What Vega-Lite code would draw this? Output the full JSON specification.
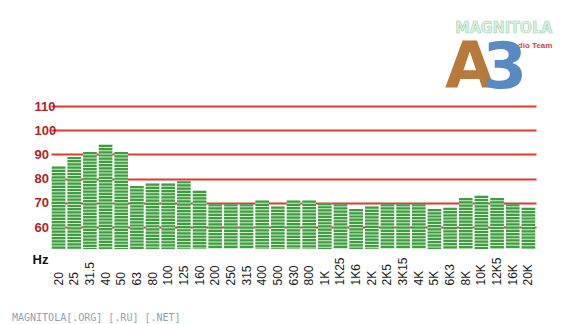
{
  "$schema": "https://vega.github.io/schema/vega-lite/v6.json",
  "width": 485,
  "height": 143,
  "autosize": "none",
  "padding": {"left": 51, "top": 106, "right": 35, "bottom": 75},
  "background": "white",
  "config": {
    "view": {"stroke": null},
    "font": "Liberation Sans",
    "axisX": {
      "titleAngle": 0,
      "titleAlign": "left",
      "titleBaseline": "alphabetic",
      "titleX": -19,
      "titleY": 14,
      "titleFontSize": 13,
      "titleFontWeight": "bold",
      "titleColor": "#111111",
      "labelAngle": -90,
      "labelAlign": "left",
      "labelBaseline": "middle",
      "labelPadding": 36,
      "labelFontSize": 12,
      "labelColor": "#1a1a1a",
      "labelOverlap": false,
      "ticks": false,
      "domain": false,
      "grid": false
    },
    "axisY": {
      "labelOverlap": false,
      "grid": true,
      "gridColor": "#de3b2c",
      "gridWidth": 2,
      "zindex": 1,
      "domain": false,
      "ticks": false,
      "labelAlign": "left",
      "labelPadding": 17,
      "labelFontSize": 13,
      "labelFontWeight": "bold",
      "labelColor": "#b31e1e"
    }
  },
  "title": {
    "text": "MAGNITOLA[.ORG] [.RU] [.NET]",
    "orient": "bottom",
    "anchor": "start",
    "frame": "group",
    "font": "DejaVu Sans Mono",
    "fontSize": 10,
    "fontWeight": "normal",
    "color": "#8ea0b8",
    "offset": 28,
    "dx": -39
  },
  "datasets": {
    "eq": [
      {"hz": "20", "db": 85}, {"hz": "25", "db": 89}, {"hz": "31.5", "db": 91},
      {"hz": "40", "db": 94}, {"hz": "50", "db": 91}, {"hz": "63", "db": 77},
      {"hz": "80", "db": 78}, {"hz": "100", "db": 78}, {"hz": "125", "db": 79},
      {"hz": "160", "db": 75}, {"hz": "200", "db": 69.5}, {"hz": "250", "db": 69.5},
      {"hz": "315", "db": 69.5}, {"hz": "400", "db": 71}, {"hz": "500", "db": 68.5},
      {"hz": "630", "db": 71}, {"hz": "800", "db": 71}, {"hz": "1K", "db": 70},
      {"hz": "1K25", "db": 69.5}, {"hz": "1K6", "db": 67.5}, {"hz": "2K", "db": 68.5},
      {"hz": "2K5", "db": 69.5}, {"hz": "3K15", "db": 69.5}, {"hz": "4K", "db": 69.5},
      {"hz": "5K", "db": 67.5}, {"hz": "6K3", "db": 68}, {"hz": "8K", "db": 72},
      {"hz": "10K", "db": 73}, {"hz": "12K5", "db": 72}, {"hz": "16K", "db": 69.5},
      {"hz": "20K", "db": 68}
    ],
    "one": [{}]
  },
  "layer": [
    {
      "data": {"name": "eq"},
      "mark": {"type": "bar", "color": "#d3ecce"},
      "encoding": {
        "x": {
          "field": "hz",
          "type": "nominal",
          "sort": null,
          "scale": {"paddingInner": 0.13, "paddingOuter": 0.05},
          "axis": {"title": "Hz"}
        },
        "y": {
          "field": "db",
          "type": "quantitative",
          "scale": {"domain": [51, 110], "nice": false, "zero": false},
          "axis": {"title": null, "values": [60, 70, 80, 90, 100, 110]}
        },
        "y2": {"datum": 51}
      }
    },
    {
      "data": {"name": "eq"},
      "mark": {"type": "rule", "color": "#409c42", "strokeWidth": 13.6, "strokeDash": [2.2, 1.0], "strokeCap": "butt"},
      "encoding": {
        "x": {"field": "hz", "type": "nominal", "sort": null, "axis": {"title": "Hz"}},
        "y": {"field": "db", "type": "quantitative", "axis": {"title": null, "values": [60, 70, 80, 90, 100, 110]}},
        "y2": {"datum": 51}
      }
    },
    {
      "data": {"name": "one"},
      "mark": {"type": "text", "text": "MAGNITOLA", "font": "'DejaVu Sans Condensed', 'Liberation Sans', sans-serif", "fontSize": 16, "fontWeight": "bold", "align": "right", "baseline": "alphabetic", "fill": "#dcf2e4", "stroke": "#9fcfb3", "strokeWidth": 0.6, "dx": 24},
      "encoding": {
        "x": {"datum": "20K", "type": "nominal", "axis": {"title": "Hz"}},
        "y": {"datum": 140, "type": "quantitative", "axis": {"title": null, "values": [60, 70, 80, 90, 100, 110]}}
      }
    },
    {
      "data": {"name": "one"},
      "mark": {"type": "text", "text": "dio Team", "fontSize": 8, "fontWeight": "bold", "align": "right", "baseline": "alphabetic", "color": "#d9453d", "dx": 24},
      "encoding": {
        "x": {"datum": "20K", "type": "nominal", "axis": {"title": "Hz"}},
        "y": {"datum": 134, "type": "quantitative", "axis": {"title": null, "values": [60, 70, 80, 90, 100, 110]}}
      }
    },
    {
      "data": {"name": "one"},
      "mark": {"type": "text", "text": "A", "font": "DejaVu Sans", "fontSize": 64, "fontWeight": "bold", "align": "center", "baseline": "alphabetic", "color": "#b57a3c", "dx": 4},
      "encoding": {
        "x": {"datum": "8K", "type": "nominal", "axis": {"title": "Hz"}},
        "y": {"datum": 117.4, "type": "quantitative", "axis": {"title": null, "values": [60, 70, 80, 90, 100, 110]}}
      }
    },
    {
      "data": {"name": "one"},
      "mark": {"type": "text", "text": "3", "font": "DejaVu Sans", "fontSize": 64, "fontWeight": "bold", "align": "center", "baseline": "alphabetic", "color": "#5a8ac2", "dx": -8},
      "encoding": {
        "x": {"datum": "16K", "type": "nominal", "axis": {"title": "Hz"}},
        "y": {"datum": 117.4, "type": "quantitative", "axis": {"title": null, "values": [60, 70, 80, 90, 100, 110]}}
      }
    }
  ]
}
